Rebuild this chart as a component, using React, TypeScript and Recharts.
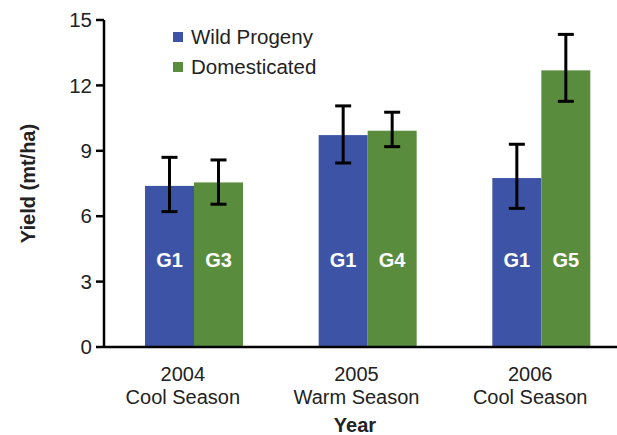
import { Bar, BarChart, ErrorBar, Legend, XAxis, YAxis } from "recharts";

const years = ["2004", "2005", "2006"];
const seasons = ["Cool Season", "Warm Season", "Cool Season"];
const wildProgeny = [7.39, 9.72, 7.75];
const wildErr = [
  [1.18, 1.31],
  [1.28, 1.34],
  [1.39, 1.55],
];
const domesticated = [7.55, 9.92, 12.69];
const domErr = [
  [1.0, 1.03],
  [0.73, 0.85],
  [1.42, 1.65],
];
const wildGen = ["G1", "G1", "G1"];
const domGen = ["G3", "G4", "G5"];
const yTicks = [0, 3, 6, 9, 12, 15];

const BLUE = "#3d54a6";
const GREEN = "#5a8c3e";
const TEXT = "#222";
const FONT = '"Liberation Sans", Arial, sans-serif';
const LABEL_AT = 4;

const data = years.map((year, i) => ({
  year,
  season: seasons[i],
  wild: wildProgeny[i],
  wildErr: wildErr[i],
  dom: domesticated[i],
  domErr: domErr[i],
  wildGen: wildGen[i],
  domGen: domGen[i],
}));

function barShape(valueKey: string, genKey: string, fill: string) {
  return (props: any) => {
    const { x, y, width, height, payload } = props;
    const v = payload[valueKey];
    const bottom = y + height;
    const ly = bottom - (LABEL_AT * height) / v;
    return (
      <g>
        <rect x={x} y={y} width={width} height={height} fill={fill} />
        <text
          x={x + width / 2}
          y={ly}
          textAnchor="middle"
          dominantBaseline="central"
          fill="#fff"
          fontWeight="bold"
          fontSize={20}
          fontFamily={FONT}
        >
          {payload[genKey]}
        </text>
      </g>
    );
  };
}

function XTick({ x, y, payload, index }: any) {
  return (
    <text x={x - 11} y={y} textAnchor="middle" fill={TEXT} fontSize={20} fontFamily={FONT}>
      <tspan x={x - 11} dy={26}>
        {payload.value}
      </tspan>
      <tspan x={x - 11} dy={23}>
        {seasons[index]}
      </tspan>
    </text>
  );
}

function LegendBox() {
  const items = [
    { label: "Wild Progeny", color: BLUE },
    { label: "Domesticated", color: GREEN },
  ];
  return (
    <div style={{ fontFamily: FONT, fontSize: 20.5, color: TEXT }}>
      {items.map((it) => (
        <div key={it.label} style={{ display: "flex", alignItems: "center", height: 30 }}>
          <span style={{ width: 10, height: 10, background: it.color, marginRight: 8 }} />
          <span>{it.label}</span>
        </div>
      ))}
    </div>
  );
}

export default function App() {
  return (
    <div
      style={{
        position: "absolute",
        left: 0,
        top: 0,
        width: 617,
        height: 435,
        overflow: "hidden",
        background: "#fff",
      }}
    >
      <BarChart
        width={628}
        height={435}
        data={data}
        margin={{ top: 20, right: 0, left: 0, bottom: 0 }}
        barSize={49}
        barGap={0}
      >
        <XAxis
          dataKey="year"
          height={88}
          padding={{ left: 3, right: 0 }}
          tickLine={false}
          axisLine={{ stroke: "#000", strokeWidth: 2.5 }}
          tick={<XTick />}
          interval={0}
          label={{
            value: "Year",
            position: "insideBottom",
            offset: 3,
            dx: -11,
            style: { fontFamily: FONT, fontSize: 20, fontWeight: "bold", fill: TEXT },
          }}
        />
        <YAxis
          width={104}
          domain={[0, 15]}
          ticks={yTicks}
          tickSize={8}
          tickMargin={4}
          tickLine={{ stroke: "#000", strokeWidth: 2.5 }}
          axisLine={{ stroke: "#000", strokeWidth: 2.5 }}
          tick={{ fontSize: 20.5, fill: TEXT, fontFamily: FONT }}
          label={{
            value: "Yield (mt/ha)",
            angle: -90,
            position: "insideLeft",
            offset: 28,
            style: { fontFamily: FONT, fontSize: 20, fontWeight: "bold", fill: TEXT, textAnchor: "middle" },
          }}
        />
        <Legend
          layout="horizontal"
          verticalAlign="middle"
          align="center"
          content={<LegendBox />}
          wrapperStyle={{ top: 22, left: 173, width: "auto" }}
        />
        <Bar dataKey="wild" fill={BLUE} isAnimationActive={false} shape={barShape("wild", "wildGen", BLUE)}>
          <ErrorBar dataKey="wildErr" width={8} stroke="#000" strokeWidth={3} direction="y" />
        </Bar>
        <Bar dataKey="dom" fill={GREEN} isAnimationActive={false} shape={barShape("dom", "domGen", GREEN)}>
          <ErrorBar dataKey="domErr" width={8} stroke="#000" strokeWidth={3} direction="y" />
        </Bar>
      </BarChart>
    </div>
  );
}
